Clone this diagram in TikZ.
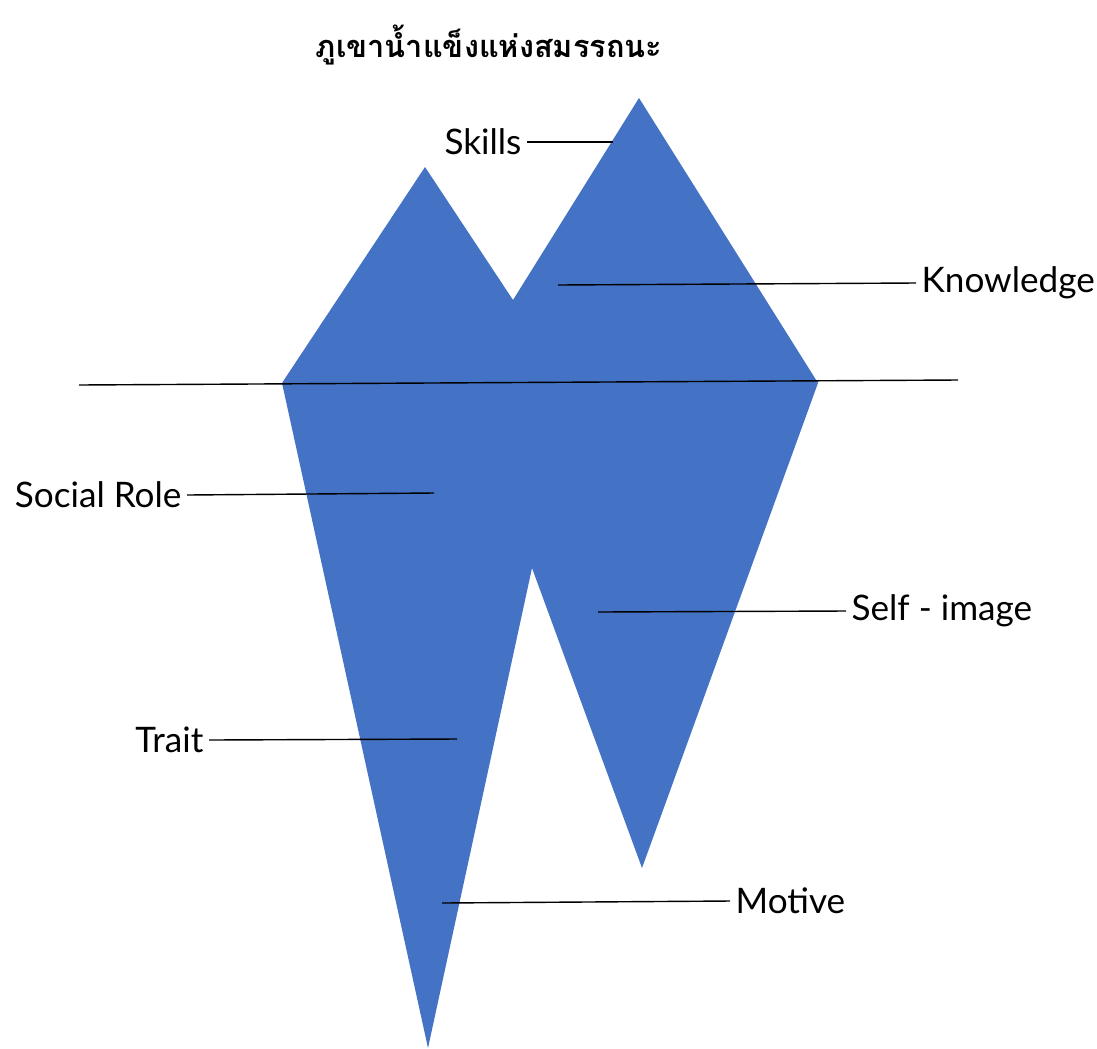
\documentclass[tikz,border=0pt]{standalone}
\usepackage{fontspec}
\setmainfont{Lato}
\newfontfamily\thaifont[Script=Thai]{Loma}
\usetikzlibrary{positioning}
\definecolor{iceblue}{HTML}{4472C4}

\begin{document}
\begin{tikzpicture}[
        x=0.02cm,y=-0.02cm,
        lbl/.style={font=\fontsize{20}{22}\selectfont,inner sep=3pt},
        lead/.style={draw=black,line width=0.8pt}
      ]
        \useasboundingbox (0,0) rectangle (1097,1048);
        % iceberg
        \fill[iceblue] (282,383) -- (425,167) -- (513,300) -- (639,98) -- (818,383)
          -- (642,868) -- (532,568) -- (428,1048) -- cycle;
        % water line
        \coordinate (wl) at (79,385);
        \coordinate (wr) at (958,380);
        \draw[lead] (wl) -- (wr);
        % title
        \node[font=\thaifont\bfseries\fontsize{17.5}{21}\selectfont] (title) at (489,45) {ภูเขาน้ำแข็งแห่งสมรรถนะ};
        % labels
        \node[lbl,anchor=east] (skills) at (527,142) {Skills};
        \node[lbl,anchor=west] (know) at (916,283) {Knowledge};
        \node[lbl,anchor=east] (social) at (187,495) {Social Role};
        \node[lbl,anchor=west] (self) at (846,611) {Self - image};
        \node[lbl,anchor=east] (trait) at (209,740) {Trait};
        \node[lbl,anchor=west] (motive) at (730,901) {Motive};
        % leader ends
        \coordinate (skillsend) at (613,142);
        \coordinate (knowend) at (558,285);
        \coordinate (socialend) at (434,493);
        \coordinate (selfend) at (598,612);
        \coordinate (traitend) at (457,739);
        \coordinate (motiveend) at (442,903);
        \draw[lead] (skills.east) -- (skillsend);
        \draw[lead] (know.west) -- (knowend);
        \draw[lead] (social.east) -- (socialend);
        \draw[lead] (self.west) -- (selfend);
        \draw[lead] (trait.east) -- (traitend);
        \draw[lead] (motive.west) -- (motiveend);
      \end{tikzpicture}
\end{document}
